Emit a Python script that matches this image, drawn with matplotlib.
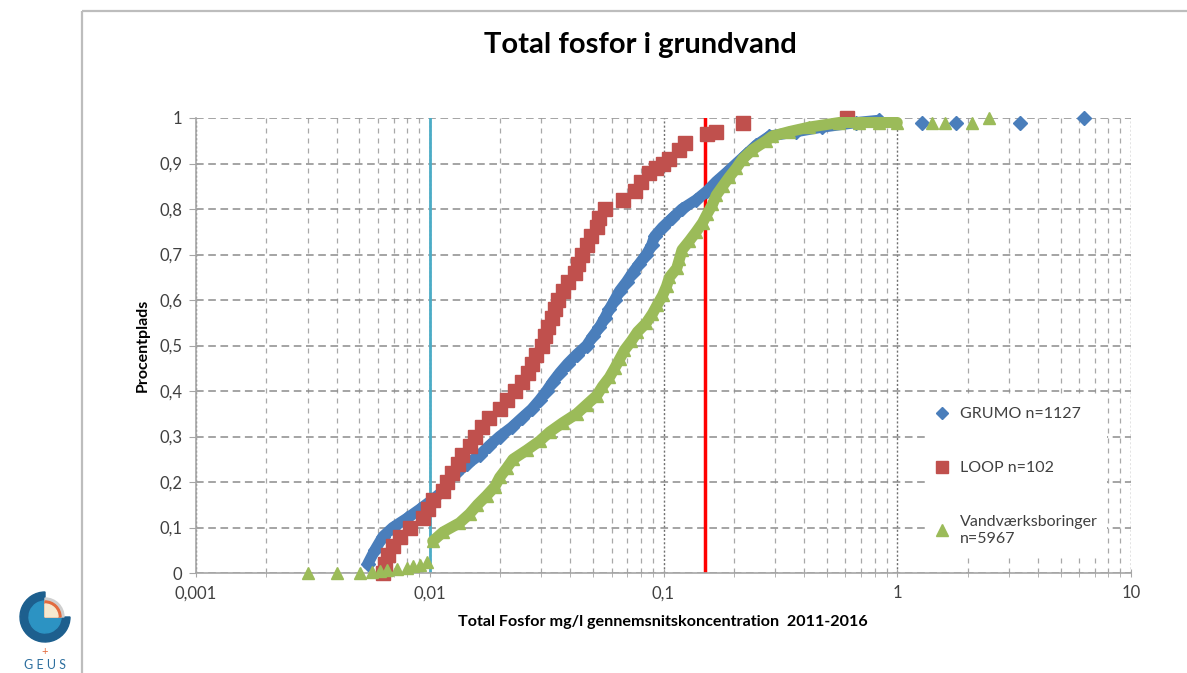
import matplotlib
matplotlib.use("Agg")
import matplotlib.pyplot as plt
from matplotlib.patches import Rectangle, Wedge
from matplotlib.lines import Line2D
from matplotlib.ticker import FixedLocator, FixedFormatter, LogLocator, NullFormatter

plt.rcParams['font.family'] = ['Lato', 'DejaVu Sans']

# ---------------- data ----------------
grumo_x = [0.00543, 0.00582, 0.00630, 0.00695, 0.00798, 0.00906, 0.0102, 0.0114,
           0.0118, 0.0130, 0.0145, 0.0164, 0.0180, 0.0199, 0.0224, 0.0247, 0.0273,
           0.0295, 0.0316, 0.0336, 0.0360, 0.0389, 0.0425, 0.0469, 0.0498, 0.0532,
           0.0560, 0.0587, 0.0618, 0.0649, 0.0695, 0.0738, 0.0789, 0.0845, 0.0889,
           0.0916, 0.0991, 0.109, 0.120, 0.138, 0.154, 0.168, 0.186, 0.205, 0.226,
           0.249, 0.284, 0.370, 0.478, 0.668, 0.838]
grumo_y = [0.02, 0.05, 0.08, 0.10, 0.12, 0.14, 0.16, 0.18,
           0.20, 0.22, 0.24, 0.26, 0.28, 0.30, 0.32, 0.34, 0.36,
           0.38, 0.40, 0.42, 0.44, 0.46, 0.48, 0.50, 0.52, 0.54,
           0.56, 0.58, 0.60, 0.62, 0.64, 0.66, 0.68, 0.70, 0.72,
           0.74, 0.76, 0.78, 0.80, 0.82, 0.84, 0.86, 0.88, 0.90, 0.92,
           0.94, 0.96, 0.97, 0.98, 0.99, 0.995]
grumo_out_x = [1.28, 1.79, 3.36, 6.3]
grumo_out_y = [0.99, 0.99, 0.99, 1.0]

loop_x = [0.00630, 0.00643, 0.00662, 0.00695, 0.00745, 0.00823, 0.00933, 0.00979,
          0.0103, 0.0114, 0.0118, 0.0125, 0.0132, 0.0138, 0.0148, 0.0156, 0.0168,
          0.0180, 0.0199, 0.0215, 0.0231, 0.0247, 0.0262, 0.0273, 0.0286, 0.0302,
          0.0310, 0.0319, 0.0332, 0.0342, 0.0352, 0.0370, 0.0389, 0.0417, 0.0429,
          0.0447, 0.0469, 0.0492, 0.0518, 0.0532, 0.0560, 0.0668, 0.0752, 0.0805,
          0.0871, 0.0932, 0.0991, 0.106, 0.117, 0.123, 0.153, 0.168, 0.218, 0.611]
loop_y = [0.00, 0.02, 0.04, 0.06, 0.08, 0.10, 0.12, 0.14,
          0.16, 0.18, 0.20, 0.22, 0.24, 0.26, 0.28, 0.30, 0.32,
          0.34, 0.36, 0.38, 0.40, 0.42, 0.44, 0.46, 0.48, 0.50,
          0.52, 0.54, 0.56, 0.58, 0.60, 0.62, 0.64, 0.66, 0.68,
          0.70, 0.72, 0.74, 0.76, 0.78, 0.80, 0.82, 0.84, 0.86,
          0.88, 0.89, 0.90, 0.91, 0.93, 0.945, 0.965, 0.97, 0.99, 1.0]

vand_low_x = [0.00301, 0.00400, 0.00502, 0.00565, 0.00611, 0.00655, 0.00723,
              0.00798, 0.00845, 0.00906, 0.00970]
vand_low_y = [0.0, 0.0, 0.0, 0.002, 0.004, 0.006, 0.009, 0.012, 0.015, 0.018, 0.025]
vand_x = [0.0103, 0.0114, 0.0134, 0.0148, 0.0160, 0.0175, 0.0190, 0.0199, 0.0213,
          0.0227, 0.0260, 0.0295, 0.0326, 0.0370, 0.0425, 0.0469, 0.0518, 0.0548,
          0.0587, 0.0618, 0.0649, 0.0681, 0.0729, 0.0774, 0.0845, 0.0897, 0.0942,
          0.0991, 0.103, 0.106, 0.114, 0.117, 0.120, 0.129, 0.138, 0.147, 0.154,
          0.162, 0.168, 0.179, 0.191, 0.205, 0.218, 0.240, 0.275, 0.292, 0.345,
          0.421, 0.565, 0.689, 0.838, 1.0]
vand_y = [0.07, 0.09, 0.11, 0.13, 0.15, 0.17, 0.19, 0.21, 0.23,
          0.25, 0.27, 0.29, 0.31, 0.33, 0.35, 0.37, 0.39, 0.41,
          0.43, 0.45, 0.47, 0.49, 0.51, 0.53, 0.55, 0.57, 0.59,
          0.61, 0.63, 0.65, 0.67, 0.69, 0.71, 0.73, 0.75, 0.77, 0.79,
          0.81, 0.83, 0.85, 0.87, 0.89, 0.91, 0.93, 0.95, 0.96, 0.97,
          0.98, 0.99, 0.99, 0.99, 0.99]
vand_out_x = [1.41, 1.60, 2.09, 2.47]
vand_out_y = [0.99, 0.99, 0.99, 1.0]

threshold_low = 0.01
threshold_high = 0.15

xtick_vals = [0.001, 0.01, 0.1, 1, 10]
xtick_labels = ['0,001', '0,01', '0,1', '1', '10']
ytick_vals = [0, 0.1, 0.2, 0.3, 0.4, 0.5, 0.6, 0.7, 0.8, 0.9, 1.0]
ytick_labels = ['0', '0,1', '0,2', '0,3', '0,4', '0,5', '0,6', '0,7', '0,8', '0,9', '1']

series_labels = ['GRUMO n=1127', 'LOOP n=102', 'Vandværksboringer\nn=5967']
c_blue, c_red, c_green = '#4A7EBB', '#C0504D', '#9BBB59'

# ---------------- figure ----------------
W, H = 1187, 673
fig = plt.figure(figsize=(W / 100, H / 100), dpi=100)

bg = fig.add_axes([0, 0, 1, 1])
bg.set_xlim(0, W)
bg.set_ylim(H, 0)
bg.axis('off')
bg.add_patch(Rectangle((82, 11), 1300, 800, fill=False, ec='#BDBDBD', lw=1.6))
# GEUS logo (approximation)
cx, cy = 45, 617
bg.add_patch(Wedge((cx, cy), 25, 0, 270, color='#1D5F8E'))
bg.add_patch(Wedge((cx, cy), 16, 0, 270, color='#2C93C3'))
bg.add_patch(Wedge((cx, cy), 19, 270, 360, color='#CFCFCF'))
bg.add_patch(Wedge((cx, cy), 16, 270, 360, color='#E36B3E'))
bg.add_patch(Wedge((cx, cy), 13, 270, 360, color='#F6E9CF'))
bg.text(45, 651, '+', color='#E36B3E', fontsize=8, ha='center', va='center')
bg.text(45, 665, 'G E U S', color='#2C6E9E', fontsize=9, ha='center', va='center')

ax = fig.add_axes([196 / W, 1 - 573 / H, 935 / W, 455 / H])
ax.set_xscale('log')
ax.set_xlim(xtick_vals[0], xtick_vals[-1])
ax.set_ylim(ytick_vals[0], ytick_vals[-1])

ax.xaxis.set_major_locator(FixedLocator(xtick_vals))
ax.xaxis.set_major_formatter(FixedFormatter(xtick_labels))
ax.xaxis.set_minor_locator(LogLocator(base=10, subs=[2, 3, 4, 5, 6, 7, 8, 9]))
ax.xaxis.set_minor_formatter(NullFormatter())
ax.yaxis.set_major_locator(FixedLocator(ytick_vals))
ax.yaxis.set_major_formatter(FixedFormatter(ytick_labels))

ax.grid(which='major', axis='y', ls=(0, (5, 3)), color='#8C8C8C', lw=1.1)
ax.grid(which='minor', axis='x', ls=(0, (4, 4)), color='#A8A8A8', lw=0.9)
ax.grid(which='major', axis='x', ls=(0, (1.5, 1.5)), color='#707070', lw=1.0)
ax.set_axisbelow(True)

for s in ['top', 'right']:
    ax.spines[s].set_visible(False)
for s in ['left', 'bottom']:
    ax.spines[s].set_color('#A6A6A6')
    ax.spines[s].set_linewidth(1.2)

ax.tick_params(axis='x', which='both', direction='inout', length=6, color='#A6A6A6',
               labelsize=12, labelcolor='#404040', pad=6)
ax.tick_params(axis='y', which='major', direction='out', length=5, color='#A6A6A6',
               labelsize=12, labelcolor='#404040', pad=5)

ax.axvline(threshold_low, color='#4BACC6', lw=2, zorder=2)
ax.axvline(threshold_high, color='#FF0000', lw=2.5, zorder=2)

ms_d, ms_s, ms_t, lw_band = 7.0, 9.5, 9.0, 8.0
ax.plot(grumo_x, grumo_y, ls='-', lw=lw_band, color=c_blue, marker='D', ms=ms_d,
        solid_joinstyle='round', solid_capstyle='round', zorder=3, clip_on=False)
ax.plot(grumo_out_x, grumo_out_y, ls='none', color=c_blue, marker='D', ms=ms_d,
        zorder=3, clip_on=False)
ax.plot(loop_x, loop_y, ls='none', color=c_red, marker='s', ms=ms_s, zorder=4,
        clip_on=False)
ax.plot(vand_low_x, vand_low_y, ls='none', color=c_green, marker='^', ms=ms_t,
        zorder=5, clip_on=False)
ax.plot(vand_x, vand_y, ls='-', lw=lw_band, color=c_green, marker='^', ms=ms_t,
        solid_joinstyle='round', solid_capstyle='round', zorder=5, clip_on=False)
ax.plot(vand_out_x, vand_out_y, ls='none', color=c_green, marker='^', ms=ms_t,
        zorder=5, clip_on=False)

handles = [Line2D([], [], ls='none', marker='D', ms=6.2, color=c_blue),
           Line2D([], [], ls='none', marker='s', ms=8, color=c_red),
           Line2D([], [], ls='none', marker='^', ms=8, color=c_green)]
leg = ax.legend(handles, series_labels, loc='upper left', bbox_to_anchor=(0.771, 0.403),
                frameon=True, fancybox=False, edgecolor='none', facecolor='white',
                framealpha=1, fontsize=11.5, labelspacing=2.5, handletextpad=0.6,
                handlelength=1.0, borderpad=0.6)
for t in leg.get_texts():
    t.set_color('#404040')

fig.text(640 / W, 1 - 45 / H, 'Total fosfor i grundvand', ha='center', va='center',
         fontsize=21, weight='bold', color='#000000')
fig.text(663 / W, 1 - 622 / H, 'Total Fosfor mg/l gennemsnitskoncentration  2011-2016',
         ha='center', va='center', fontsize=11.6, weight='bold', color='#000000')
fig.text(143 / W, 1 - 345 / H, 'Procentplads', ha='center', va='center',
         rotation=90, fontsize=11.5, weight='bold', color='#000000')

fig.savefig('out.png', dpi=100)
